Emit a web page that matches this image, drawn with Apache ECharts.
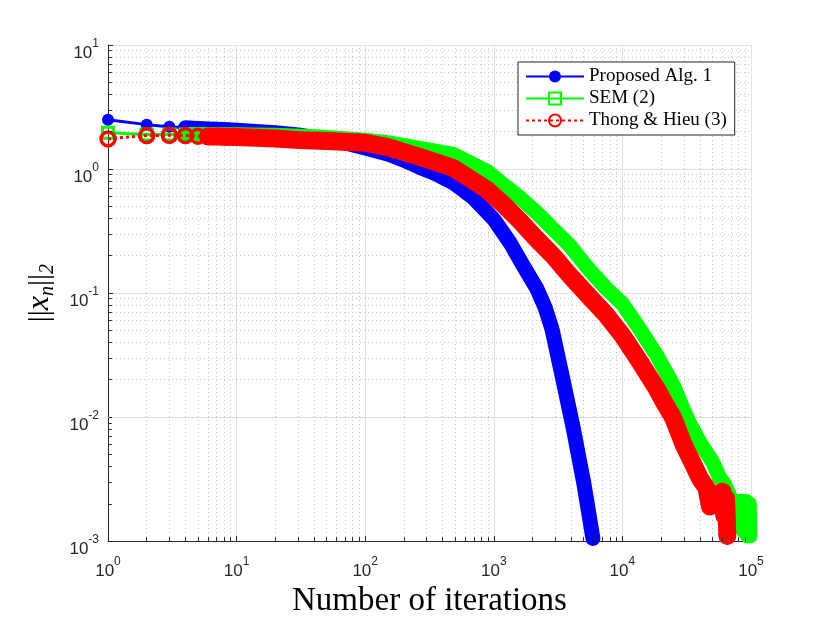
<!DOCTYPE html>
<html><head><meta charset="utf-8">
<script src="https://cdn.jsdelivr.net/npm/echarts@6/dist/echarts.min.js"></script>
<style>html,body{margin:0;padding:0;background:#fff}#c{width:830px;height:623px}</style>
</head><body><div id="c"></div>
<script>
// ---- data (iteration n, ||x_n||_2) ----
const blueX = [1,2,3,4,5,6,7,8,10,15,20,30,50,70,100,150,200,267,350,484,692,1000,1336,1694,2168,2500,2838,3435,4150,5020,5900];
const blueY = [2.5,2.28,2.19,2.15,2.12,2.10,2.09,2.08,2.05,2.0,1.96,1.88,1.74,1.62,1.48,1.32,1.18,1.03,0.92,0.775,0.587,0.393,0.255,0.166,0.108,0.077,0.051,0.0204,0.0081,0.0029,0.00105];

const greenX = [1,2,3,4,5,6,7,8,10,20,31,50,100,150,267,484,881,1186,1598,2155,2902,3915,5500,7550,10000,13700,18500,24900,29800,33500,41400,50000,57400,62000,66000,70000,73000,76000,80000,84000,88000,91000,94000,97000,98000];
const greenY = [1.96,1.90,1.90,1.90,1.90,1.90,1.90,1.89,1.89,1.87,1.84,1.80,1.71,1.63,1.47,1.31,0.96,0.75,0.587,0.445,0.327,0.24,0.155,0.108,0.082,0.051,0.0314,0.018,0.0115,0.0088,0.0059,0.0044,0.0032,0.0029,0.0025,0.0022,0.0013,0.0021,0.0014,0.0021,0.0012,0.0021,0.0011,0.0020,0.0011];

const redX = [1,2,3,4,5,6,7,8,10,20,31,50,100,150,267,484,881,1186,1598,2155,2902,3915,5500,7550,10000,13700,18500,21700,24900,30100,35000,40100,45000,48000,52000,56000,60000,62000,64000,65500];
const redY = [1.75,1.86,1.87,1.86,1.84,1.83,1.83,1.82,1.81,1.76,1.71,1.68,1.63,1.50,1.25,1.02,0.684,0.519,0.381,0.272,0.199,0.138,0.094,0.066,0.0454,0.0278,0.0169,0.0125,0.0098,0.0059,0.0043,0.0032,0.0027,0.0019,0.0024,0.0021,0.0025,0.0016,0.0022,0.0011];

const seriesNames = ['Proposed Alg. 1', 'SEM (2)', 'Thong & Hieu (3)'];
const xDecades = [0,1,2,3,4];      // minor grid decades on x
const yDecades = [-3,-2,-1,0];     // minor grid decades on y
const minorMult = [2,3,4,5,6,7,8,9];

// ---- helpers ----
function pairs(xs, ys, lo, hi) {
  const out = [];
  for (let i = 0; i < xs.length; i++) if (xs[i] >= lo && xs[i] <= hi) out.push([xs[i], ys[i]]);
  return out;
}
const minorXs = [], minorYs = [];
xDecades.forEach(k => minorMult.forEach(m => minorXs.push(m * Math.pow(10, k))));
yDecades.forEach(k => minorMult.forEach(m => minorYs.push(m * Math.pow(10, k))));

const X_MIN = 1, X_MAX = 100000, Y_MIN = 0.001, Y_MAX = 10;
const axisColor = '#262626';
const labelRich = {
  b: {fontFamily: 'Liberation Sans', fontSize: 17, color: axisColor, lineHeight: 24, verticalAlign: 'bottom'},
  s: {fontFamily: 'Liberation Sans', fontSize: 12, color: axisColor, lineHeight: 16, verticalAlign: 'top'}
};
function powLabel(v) { return '{b|10}{s|' + Math.round(Math.log10(v)) + '}'; }

const BLUE = '#0000ff', GREEN = '#00ff00', RED = '#ff0000';

const chart = echarts.init(document.getElementById('c'), null, {renderer: 'canvas'});
chart.setOption({
  animation: false,
  backgroundColor: '#fff',
  grid: {left: 108, right: 79, top: 45, bottom: 80, containLabel: false},
  xAxis: {
    type: 'log', logBase: 10, min: X_MIN, max: X_MAX,
    axisLine: {show: true, onZero: false, lineStyle: {color: axisColor, width: 1}},
    axisTick: {show: true, inside: true, length: 5, lineStyle: {color: axisColor}},
    splitLine: {show: true, lineStyle: {color: '#e2e2e2', width: 1}},
    axisLabel: {formatter: powLabel, rich: labelRich, margin: 15},
    name: 'Number of iterations', nameLocation: 'middle', nameGap: 42,
    nameTextStyle: {fontFamily: 'Liberation Serif', fontSize: 33, color: '#000'}
  },
  yAxis: {
    type: 'log', logBase: 10, min: Y_MIN, max: Y_MAX,
    axisLine: {show: true, onZero: false, lineStyle: {color: axisColor, width: 1}},
    axisTick: {show: true, inside: true, length: 5, lineStyle: {color: axisColor}},
    splitLine: {show: true, lineStyle: {color: '#e2e2e2', width: 1}},
    axisLabel: {formatter: powLabel, rich: labelRich, margin: 9, padding: [10, 0, 0, 0]},
    name: '{n|||}{i|x}{sub|n}{n|||}{sub|2}', nameLocation: 'middle', nameGap: 50, nameRotate: 90,
    nameTextStyle: {
      rich: {
        n: {fontFamily: 'Liberation Serif', fontSize: 30, color: '#000', lineHeight: 36, verticalAlign: 'middle'},
        i: {fontFamily: 'Liberation Serif', fontStyle: 'italic', fontSize: 32, color: '#000', lineHeight: 36, verticalAlign: 'middle'},
        sub: {fontFamily: 'Liberation Serif', fontStyle: 'italic', fontSize: 20, color: '#000', lineHeight: 20, verticalAlign: 'bottom'}
      }
    }
  },
  legend: {
    data: seriesNames,
    orient: 'vertical', left: 518, top: 62,
    itemWidth: 58, itemHeight: 15, itemGap: 3,
    padding: [5, 8, 5, 7],
    backgroundColor: '#fff', borderColor: axisColor, borderWidth: 1, borderRadius: 0,
    textStyle: {fontFamily: 'Liberation Serif', fontSize: 19, color: '#000', lineHeight: 19}
  },
  series: [
    { // minor dotted grid (behind the data)
      name: 'minorGrid', type: 'line', data: [], z: 1, silent: true,
      markLine: {
        z: 1, silent: true, symbol: ['none', 'none'], label: {show: false}, animation: false,
        lineStyle: {type: [1, 3], color: '#c4c4c4', width: 1},
        emphasis: {disabled: true},
        data: minorXs.map(v => ({xAxis: v})).concat(minorYs.map(v => ({yAxis: v})))
      }
    },
    { // minor ticks (inward)
      name: 'minorTicks', type: 'line', data: [], z: 9, silent: true,
      markLine: {
        z: 9, silent: true, symbol: ['none', 'none'], label: {show: false}, animation: false,
        lineStyle: {type: 'solid', color: axisColor, width: 1},
        emphasis: {disabled: true},
        data: minorXs.map(v => [{coord: [v, Y_MIN]}, {coord: [v, Y_MIN * 1.075]}])
          .concat(minorYs.map(v => [{coord: [X_MIN, v]}, {coord: [X_MIN * 1.07, v]}]))
      }
    },
    {
      name: 'blueBand', type: 'line', data: pairs(blueX, blueY, 4, Infinity), z: 2,
      showSymbol: false, clip: false, silent: true,
      lineStyle: {color: BLUE, width: 15, cap: 'round', join: 'round'}
    },
    {
      name: seriesNames[0], type: 'line', data: pairs(blueX, blueY, 1, 10), z: 3,
      symbol: 'circle', symbolSize: 12, showSymbol: true, clip: false,
      itemStyle: {color: BLUE},
      lineStyle: {color: BLUE, width: 3}
    },
    {
      name: 'greenBand', type: 'line', data: pairs(greenX, greenY, 4, Infinity), z: 4,
      showSymbol: false, clip: false, silent: true,
      lineStyle: {color: GREEN, width: 15, cap: 'round', join: 'round'}
    },
    {
      name: seriesNames[1], type: 'line', data: pairs(greenX, greenY, 1, 10), z: 5,
      symbol: 'rect', symbolSize: 11, showSymbol: true, clip: false,
      itemStyle: {color: 'rgba(255,255,255,0)', borderColor: GREEN, borderWidth: 3},
      lineStyle: {color: GREEN, width: 3}
    },
    {
      name: 'redBand', type: 'line', data: pairs(redX, redY, 6, Infinity), z: 6,
      showSymbol: false, clip: false, silent: true,
      lineStyle: {color: RED, width: 18, cap: 'round', join: 'round'}
    },
    {
      name: seriesNames[2], type: 'line', data: pairs(redX, redY, 1, 10), z: 7,
      symbol: 'circle', symbolSize: 14, showSymbol: true, clip: false,
      itemStyle: {color: 'rgba(255,255,255,0)', borderColor: RED, borderWidth: 3.5},
      lineStyle: {color: RED, width: 3, type: [3, 3]}
    }
  ]
});
</script>
</body></html>
